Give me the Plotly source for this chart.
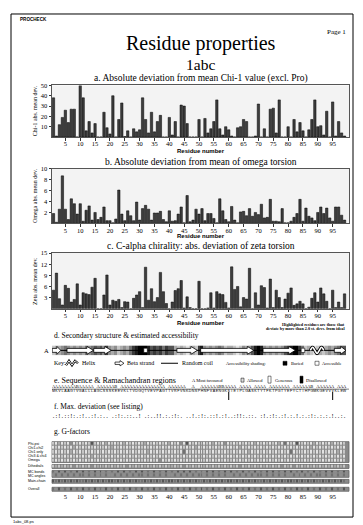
import plotly.graph_objects as go

# The page body has an 8px margin, so the figure is placed at (8, 8) in the window.
OFF = 8
W, H = 363 - OFF, 525 - OFF
def PX(x): return (x - OFF) / W
def PY(y): return 1 - (y - OFF) / H

SERIF = "Liberation Serif, Times New Roman, serif"
SANS = "Liberation Sans, Arial, sans-serif"

# ---------------- data ----------------
residues = list(range(1, 100))
tick_residues = list(range(5, 100, 5))

chi1_dev = [38, 1, 12, 19, 26, 14, 27, 27, 0, 50,
            38, 6, 15, 4, 13, 0, 0, 24, 9, 3,
            40, 0, 17, 33, 0.5, 6, 0, 8, 5, 7,
            38, 17, 4, 24, 5, 15, 21, 0, 0, 19,
            2, 15, 0, 31, 30, 13, 0, 0, 0, 17,
            0, 18, 4, 8, 15, 36, 8, 2, 10, 7,
            1, 0, 9, 10, 17, 15, 0, 0, 1, 32,
            0, 8, 0, 27, 28, 4, 36, 0, 0, 10,
            0, 17, 5, 14, 6, 0, 7, 17, 36, 10,
            11, 2, 25, 0, 34, 1, 15, 4, 1]

omega_dev = [1.8, 0.2, 2.6, 8.7, 2.6, 0.7, 4.5, 3.6, 1.7, 3.6,
             0.4, 2.4, 3.2, 0.6, 2.0, 0.7, 1.1, 3.0, 0.5, 0.5,
             0.1, 0.8, 6.1, 1.7, 0.5, 2.3, 1.4, 0.5, 3.9, 0.6,
             2.7, 3.3, 2.6, 0.6, 1.9, 1.9, 2.2, 0.7, 0.3, 2.3,
             0.4, 0.5, 1.7, 3.0, 0.1, 5.1, 0.3, 0.6, 2.6, 1.7,
             2.7, 0.5, 1.8, 1.8, 0.9, 0.1, 4.5, 2.3, 0.7, 0.3,
             3.1, 0.6, 0.1, 2.1, 2.2, 1.4, 2.7, 1.3, 2.0, 1.6,
             3.5, 1.0, 1.1, 4.4, 0.4, 0.4, 0.3, 2.7, 0.1, 0.1,
             0.4, 1.1, 1.8, 4.4, 0.4, 2.8, 1.3, 1.0, 0.5, 2.0,
             3.0, 1.8, 2.8, 1.0, 0.4, 3.0, 3.0, 1.5, 0.6]

zeta_dev = [5.0, 9.6, 2.7, 1.0, 6.3, 5.5, 1.8, 2.5, 6.7, 1.0,
            4.3, 4.0, 3.8, 5.8, 8.2, 0, 0, 3.7, 9.1, 1.0,
            2.3, 2.0, 2.5, 0.3, 1.9, 1.8, 0, 2.8, 3.7, 4.6,
            0.3, 11.2, 2.3, 5.4, 1.9, 3.0, 9.8, 4.6, 1.4, 0,
            1.8, 4.9, 5.4, 7.6, 0.2, 3.2, 0.3, 0, 0, 7.4,
            0, 0, 0.2, 4.3, 0.2, 4.6, 4.0, 3.8, 1.7, 0.2,
            11.3, 5.2, 6.0, 0.5, 3.0, 2.6, 10.9, 0, 4.3, 1.0,
            6.2, 5.7, 0.2, 8.0, 0.3, 5.0, 3.0, 0.3, 2.6, 4.2,
            5.6, 0.9, 1.3, 2.0, 1.3, 0, 0.4, 2.8, 4.3, 1.8,
            5.6, 4.0, 2.0, 0, 5.0, 0.3, 1.8, 0.3, 4.0]

# accessibility shading per residue (0 = accessible/white .. 9 = buried/black)
accessibility = ("2334543434" "3545656474" "3423435789" "9986767576" "6323212327"
                 "8434345423" "3212434689" "8434343467" "8997523212" "323434566")

strands = [(1, 3), (6, 14), (15, 20), (43, 49), (51, 68), (72, 82), (96, 99)]
helices = [(88, 92)]
blocks = [(32, 32), (85, 85)]

ramachandran_codes = ("AAAAAAAABA" "AAAA AAAAA" "AB AAAAAAA" "AAAAAAAA A" "AAAAA  A  "
                      "AAAAAABBAA" "AA AAAA AA" "AA AAAAAAA" " AAAAAAB A" "AAAAA AAA")
sequence = ("MKVLAAGIVG" "ALLLAGCSSS" "KEEVKLTVDG" "QTVEVPAGTT" "VRFVNKDNSP"
            "HNFVAENGKS" "IEIPLGASKT" "YTFKTPGTYE" "FYCTIHPGMK" "GEVVVKLEW")
max_deviation = (".:!.::!:.:" "!..:!.:.. " ".:!:.::..!" " .:..!!.:." ":!:. ..!.:"
                 "!:.::!.:!." ".:!!:.::. " ":!.:!:.:!." ":.!.:.:!:." ":.:.!..:.")
highlighted = [60, 95]

gf_labels_main = ["Phi-psi", "Chi1-chi2", "Chi1 only", "Chi3 & chi4", "Omega"]
gf_main = [
    "2131214121" "2126212131" "2121312121" "2312121213" "1214161212" "2121312141" "2121212131" "2121213151" "2161212131" "212131212",
    "1212121312" "1212121212" "3121212121" "2121212121" "2121212131" "2121212121" "1213121212" "1212121212" "1212121312" "121212121",
    "2121213121" "2121212121" "2121212121" "2131212121" "2121512121" "1212121212" "2121213121" "2121212121" "5121212121" "212121312",
    "1212121212" "1213121212" "1212121212" "1212121212" "1212121212" "2121212121" "1212121212" "1212121212" "1212121212" "121212121",
    "2121212121" "2121212121" "2121212121" "2121214121" "2121212121" "1212121212" "2121212121" "2121212121" "2121212121" "212121212",
]
gf_dihedrals = "2323232423" "2324232323" "2323242323" "2323232323" "3232423232" "2323232323" "2324232323" "2323232423" "2423232323" "232323232"
gf_labels_mc = ["MC bonds", "MC angles"]
gf_mc = [
    "5464645464" "6454646454" "5464645464" "6454645464" "5464646454" "5464645464" "6454645464" "5464645464" "6454645464" "546464546",
    "4545454545" "5454545454" "4545454545" "5454545454" "4545454545" "5454545454" "4545454545" "5454545454" "4545454545" "545454545",
]
gf_main_chain = "6565656565" "5656565656" "6565656565" "5656565656" "6565656565" "5656565656" "6565656565" "5656565656" "6565656565" "565656565"
gf_overall = "5464546454" "6454645464" "5464546454" "6454645464" "5464546454" "6454645464" "5464546454" "6454645464" "5464546454" "645464546"

# ---------------- figure ----------------
fig = go.Figure()
shapes, annotations = [], []
layout_axes = {}

XL, XRt = 52, 349
XDOM = [PX(XL), PX(XRt)]
XR = [0.5, 100.5]
CX = (XL + XRt) / 2

def txt(x, y, s, size, family=SERIF, xanchor='left', yanchor='middle', angle=0, color='black'):
    annotations.append(dict(x=PX(x), y=PY(y), xref='paper', yref='paper', text=s, showarrow=False,
                            xanchor=xanchor, yanchor=yanchor, textangle=angle, borderpad=0,
                            font=dict(family=family, size=size, color=color)))

def ax_keys(n):
    return ('x' if n == 1 else f'x{n}', 'y' if n == 1 else f'y{n}',
            'xaxis' if n == 1 else f'xaxis{n}', 'yaxis' if n == 1 else f'yaxis{n}')

# Bar panels
panels = [
    dict(n=1, vals=chi1_dev, top=82, bot=134, yr=[0, 50], yt=[10, 20, 30, 40, 50],
         title="a. Absolute deviation from mean Chi-1 value (excl. Pro)", ty=75, ylab="Chi-1 abs. mean dev.", rn=148),
    dict(n=2, vals=omega_dev, top=166, bot=221, yr=[0, 10], yt=[2, 4, 6, 8, 10],
         title="b. Absolute deviation from mean of omega torsion", ty=159, ylab="Omega abs. mean dev.", rn=234),
    dict(n=3, vals=zeta_dev, top=251, bot=307, yr=[0, 15], yt=[3, 6, 9, 12, 15],
         title="c. C-alpha chirality: abs. deviation of zeta torsion", ty=244, ylab="Zeta abs. mean dev.", rn=321),
]
for p in panels:
    xr, yr, xk, yk = ax_keys(p['n'])
    fig.add_trace(go.Bar(x=residues, y=p['vals'], xaxis=xr, yaxis=yr, width=0.8,
                         marker=dict(color='#3d3d3d', line=dict(color='black', width=0.5)),
                         hoverinfo='skip', showlegend=False))
    layout_axes[xk] = dict(domain=XDOM, range=XR, anchor=yr, tickvals=tick_residues, ticks='outside',
                           ticklen=2.5, tickwidth=0.8, tickcolor='#333', ticklabelstandoff=-2,
                           tickfont=dict(family=SERIF, size=6.5, color='black'),
                           showline=True, mirror=True, linecolor='#555', linewidth=1,
                           showgrid=False, zeroline=False, fixedrange=True)
    layout_axes[yk] = dict(domain=[PY(p['bot']), PY(p['top'])], range=p['yr'], anchor=xr,
                           tickvals=p['yt'], ticks='outside', ticklen=2.5, tickwidth=0.8, tickcolor='#333',
                           tickfont=dict(family=SERIF, size=6.5, color='black'),
                           showline=True, mirror=True, linecolor='#555', linewidth=1,
                           showgrid=False, zeroline=False, fixedrange=True)
    shapes.append(dict(type='rect', xref=f'{xr} domain', yref=f'{yr} domain', x0=0, x1=1, y0=0, y1=1,
                       fillcolor='#f3f3f3', line=dict(width=0), layer='below'))
    txt(CX, p['ty'], p['title'], 9.5, xanchor='center')
    txt(XL - 17, (p['top'] + p['bot']) / 2, p['ylab'], 6, angle=-90, xanchor='center')
    txt(CX, p['rn'], "<b>Residue number</b>", 6, family=SANS, xanchor='center')

txt(XRt - 3, 323, "<b>Highlighted residues are those that</b>", 4.2, xanchor='right')
txt(XRt - 3, 327, "<b>deviate by more than 2.0 st. devs. from ideal</b>", 4.2, xanchor='right')

# d. Secondary structure ribbon (axis 4)
fig.add_trace(go.Heatmap(z=[[int(c) for c in accessibility]], x=residues, y=[0], xaxis='x4', yaxis='y4',
                         colorscale=[[0, '#ffffff'], [1, '#000000']], zmin=0, zmax=9,
                         showscale=False, hoverinfo='skip'))
fig.add_trace(go.Scatter(x=[residues[0] - 0.5, residues[-1] + 0.5], y=[0, 0], xaxis='x4', yaxis='y4',
                         mode='lines', line=dict(color='black', width=1), hoverinfo='skip', showlegend=False))
for (s, e) in strands:
    x0, x1 = s - 0.45, e + 0.45
    hl = min(2.2, (x1 - x0) * 0.45)
    xh = x1 - hl
    b, h = 0.2, 0.4
    path = (f"M {x0},{-b} L {xh},{-b} L {xh},{-h} L {x1},0 L {xh},{h} L {xh},{b} L {x0},{b} Z")
    shapes.append(dict(type='path', xref='x4', yref='y4', path=path, fillcolor='white',
                       line=dict(color='black', width=0.8)))
for (s, e) in blocks:
    shapes.append(dict(type='rect', xref='x4', yref='y4', x0=s - 0.6, x1=e + 0.6, y0=-0.22, y1=0.22,
                       fillcolor='white', line=dict(color='black', width=0.6)))
for (s, e) in helices:
    hx, hy = [], []
    k = 0
    xx = s - 0.5
    while xx <= e + 0.5 + 1e-9:
        hx.append(xx)
        hy.append([0, 0.32, 0, -0.32][k % 4])
        xx += 0.75
        k += 1
    fig.add_trace(go.Scatter(x=hx, y=hy, xaxis='x4', yaxis='y4', mode='lines',
                             line=dict(color='black', width=3.2, shape='spline'), hoverinfo='skip', showlegend=False))
    fig.add_trace(go.Scatter(x=hx, y=hy, xaxis='x4', yaxis='y4', mode='lines',
                             line=dict(color='white', width=1.6, shape='spline'), hoverinfo='skip', showlegend=False))
layout_axes['xaxis4'] = dict(domain=XDOM, range=XR, anchor='y4', visible=False, fixedrange=True)
layout_axes['yaxis4'] = dict(domain=[PY(354), PY(344)], range=[-0.5, 0.5], anchor='x4', visible=False, fixedrange=True)
txt(XL + 1, 334, "d. Secondary structure & estimated accessibility", 7.5)
txt(XL - 6, 349, "A", 6.5, xanchor='center')

# key row
txt(XL + 1, 362, "Key:", 6)
hxp = [66, 69, 72, 75, 78]
hyp = [364, 359.5, 364, 359.5, 362]
kp = "M " + " L ".join(f"{PX(a)},{PY(b)}" for a, b in zip(hxp, hyp))
shapes.append(dict(type='path', xref='paper', yref='paper', path=kp, line=dict(color='black', width=2.2)))
shapes.append(dict(type='path', xref='paper', yref='paper', path=kp, line=dict(color='white', width=0.9)))
txt(81, 362, "Helix", 6)
ap = [(115, 360.8), (120, 360.8), (120, 359.3), (124, 362), (120, 364.7), (120, 363.2), (115, 363.2)]
shapes.append(dict(type='path', xref='paper', yref='paper',
                   path="M " + " L ".join(f"{PX(a)},{PY(b)}" for a, b in ap) + " Z",
                   fillcolor='white', line=dict(color='black', width=0.7)))
txt(126, 362, "Beta strand", 6)
shapes.append(dict(type='line', xref='paper', yref='paper', x0=PX(161), x1=PX(178), y0=PY(362), y1=PY(362),
                   line=dict(color='black', width=1)))
txt(181, 362, "Random coil", 6)
txt(225, 362, "Accessibility shading:", 4.5)
shapes.append(dict(type='rect', xref='paper', yref='paper', x0=PX(283), x1=PX(287), y0=PY(364), y1=PY(360),
                   fillcolor='black', line=dict(color='black', width=0.5)))
txt(290, 362, "Buried", 4.5)
shapes.append(dict(type='rect', xref='paper', yref='paper', x0=PX(315), x1=PX(319), y0=PY(364), y1=PY(360),
                   fillcolor='white', line=dict(color='black', width=0.5)))
txt(321, 362, "Accessible", 4.5)

# e. Sequence & Ramachandran regions (axis 5)
txt(XL + 1, 379, "e. Sequence & Ramachandran regions", 8)
txt(191, 379, "A Most favoured", 4.5)
shapes.append(dict(type='rect', xref='paper', yref='paper', x0=PX(241), x1=PX(244), y0=PY(381), y1=PY(377),
                   fillcolor='#dddddd', line=dict(color='black', width=0.5)))
txt(246, 379, "Allowed", 4.5)
shapes.append(dict(type='rect', xref='paper', yref='paper', x0=PX(268), x1=PX(271), y0=PY(382), y1=PY(375),
                   fillcolor='white', line=dict(color='black', width=0.5)))
txt(274, 379, "Generous", 4.5)
shapes.append(dict(type='rect', xref='paper', yref='paper', x0=PX(300), x1=PX(303), y0=PY(382), y1=PY(375),
                   fillcolor='black', line=dict(color='black', width=0.5)))
txt(305, 379, "Disallowed", 4.5)

fig.add_trace(go.Scatter(x=residues, y=[2.4] * len(residues), text=list(ramachandran_codes), mode='text',
                         xaxis='x5', yaxis='y5', textfont=dict(family=SERIF, size=4.5, color='black'),
                         hoverinfo='skip', showlegend=False))
fig.add_trace(go.Scatter(x=residues, y=[1.7] * len(residues), text=list(sequence), mode='text',
                         xaxis='x5', yaxis='y5', textfont=dict(family=SANS, size=3.6, color='black'),
                         hoverinfo='skip', showlegend=False))
fig.add_trace(go.Scatter(x=highlighted, y=[0.6] * len(highlighted), mode='markers', xaxis='x5', yaxis='y5',
                         marker=dict(symbol='line-ns', size=7, line=dict(color='black', width=1)),
                         hoverinfo='skip', showlegend=False))
shapes.append(dict(type='line', xref='x5 domain', yref='y5', x0=0, x1=1, y0=2.05, y1=2.05,
                   line=dict(color='black', width=0.5)))
layout_axes['xaxis5'] = dict(domain=XDOM, range=XR, anchor='y5', visible=False, fixedrange=True)
layout_axes['yaxis5'] = dict(domain=[PY(399), PY(383)], range=[0, 3], anchor='x5', visible=False, fixedrange=True)

# f. Max deviation (axis 6)
txt(XL + 1, 406, "f. Max. deviation (see listing)", 7.5)
fig.add_trace(go.Scatter(x=residues, y=[0.5] * len(residues), text=list(max_deviation), mode='text',
                         xaxis='x6', yaxis='y6', textfont=dict(family=SERIF, size=6.5, color='black'),
                         hoverinfo='skip', showlegend=False))
layout_axes['xaxis6'] = dict(domain=XDOM, range=XR, anchor='y6', visible=False, fixedrange=True)
layout_axes['yaxis6'] = dict(domain=[PY(421), PY(411)], range=[0, 1], anchor='x6', visible=False, fixedrange=True)

# g. G-factors (axes 7..11)
txt(XL + 1, 431, "g. G-factors", 7.5)
gblocks = [
    (7, gf_main, gf_labels_main, 441, 462),
    (8, [gf_dihedrals], ["Dihedrals"], 464, 468),
    (9, gf_mc, gf_labels_mc, 470, 477),
    (10, [gf_main_chain], ["Main-chain"], 479, 483),
    (11, [gf_overall], ["Overall"], 487, 491),
]
for n, rows, labels, top, bot in gblocks:
    xr, yr, xk, yk = ax_keys(n)
    nrow = len(rows)
    fig.add_trace(go.Heatmap(z=[[int(c) for c in r] for r in rows], x=residues, y=list(range(nrow)),
                             xaxis=xr, yaxis=yr, colorscale=[[0, '#ffffff'], [1, '#000000']],
                             zmin=0, zmax=9, xgap=1, ygap=1, showscale=False, hoverinfo='skip'))
    shapes.append(dict(type='rect', xref=f'{xr} domain', yref=f'{yr} domain', x0=0, x1=1, y0=0, y1=1,
                       fillcolor='#8a8a8a', line=dict(color='#666', width=0.8), layer='below'))
    is_last = (n == 11)
    layout_axes[xk] = dict(domain=XDOM, range=XR, anchor=yr, fixedrange=True, showgrid=False, zeroline=False,
                           showline=False, ticks='',
                           showticklabels=is_last, tickvals=tick_residues,
                           tickfont=dict(family=SERIF, size=6.5, color='black'))
    layout_axes[yk] = dict(domain=[PY(bot), PY(top)], range=[nrow - 0.5, -0.5], anchor=xr, visible=False,
                           fixedrange=True)
    rh = (bot - top) / nrow
    for i, lab in enumerate(labels):
        txt(27, top + rh * (i + 0.5), lab, 3.6, family=SANS)

# page furniture
shapes.append(dict(type='rect', xref='paper', yref='paper', x0=PX(11), x1=PX(353), y0=PY(517), y1=PY(10),
                   line=dict(color='black', width=1), fillcolor='rgba(0,0,0,0)'))
txt(19, 16, "<b>PROCHECK</b>", 4.6, family=SANS)
txt(347, 28, "Page 1", 7, xanchor='right')
txt(CX, 39.5, "Residue properties", 20, xanchor='center')
txt(CX, 61, "1abc", 15.5, xanchor='center')
txt(12, 521, "1abc_08.ps", 4, family=SANS)

fig.update_layout(width=W, height=H, margin=dict(l=0, r=0, t=0, b=0),
                  paper_bgcolor='white', plot_bgcolor='white', showlegend=False,
                  shapes=shapes, annotations=annotations, bargap=0.2, **layout_axes)

fig.write_html("out.html")
